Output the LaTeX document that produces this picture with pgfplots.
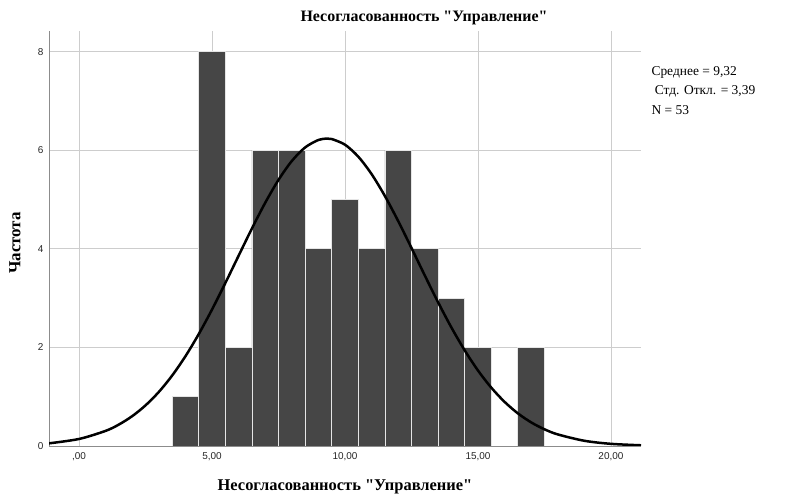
\documentclass[border=0pt]{standalone}
\usepackage{fontspec}
\setmainfont{Liberation Serif}[Ligatures=TeXOff]
\newfontfamily\arialf{Liberation Sans}
\usepackage{pgfplots}
\pgfplotsset{compat=1.18}
\definecolor{barfill}{RGB}{70,70,70}
\definecolor{gridc}{RGB}{205,205,205}
\definecolor{axisc}{RGB}{140,140,140}
\begin{document}
\begin{tikzpicture}[x=1bp,y=1bp]
\path[use as bounding box] (0,0) rectangle (799,497);
\begin{axis}[
  at={(49bp,51bp)}, anchor=south west,
  scale only axis, width=592bp, height=415bp,
  xmin=-1.13, xmax=21.13, ymin=0, ymax=8.42,
  axis x line*=bottom, axis y line*=left,
  axis line style={axisc, line width=0.8bp, -},
  xtick={0,5,10,15,20}, xticklabels={{,00},{5,00},{10,00},{15,00},{20,00}},
  ytick={0,2,4,6,8}, yticklabels={0,2,4,6,8},
  major tick length=0pt,
  grid=major, major grid style={gridc, line width=0.8bp},
  tick label style={font=\arialf\fontsize{10}{11}\selectfont, text=black!85},
  xticklabel style={yshift=-3bp},
  yticklabel style={xshift=-2bp},
]
\addplot[ybar, bar width=1, fill=barfill, draw=white!90!black, line width=0.8bp]
 coordinates {(4,1)(5,8)(6,2)(7,6)(8,6)(9,4)(10,5)(11,4)(12,6)(13,4)(14,3)(15,2)(17,2)};
\addplot[smooth, black, line width=2.5bp] coordinates {
(-1.13,0.054)(0,0.1425)(1,0.307)(1.5,0.436)(2,0.606)(2.5,0.8245)(3,1.097)(3.5,1.429)(4,1.8205)(4.5,2.270)(5,2.769)(5.5,3.306)(6,3.861)(6.5,4.413)(7,4.935)(7.5,5.400)(8,5.782)(8.5,6.057)(9,6.209)(9.32,6.237)(9.5,6.228)(10,6.113)(10.5,5.870)(11,5.516)(11.5,5.072)(12,4.563)(12.5,4.017)(13,3.460)(13.5,2.916)(14,2.405)(14.5,1.941)(15,1.532)(15.5,1.184)(16,0.895)(16.5,0.662)(17,0.479)(17.5,0.339)(18,0.235)(19,0.1058)(20,0.0436)(21.13,0.0144)};
\end{axis}
\node[font=\bfseries\fontsize{16}{18}\selectfont] at (424,479) {Несогласованность "Управление"};
\node[font=\bfseries\fontsize{16.5}{18}\selectfont] at (345,10) {Несогласованность "Управление"};
\node[font=\bfseries\fontsize{17}{20}\selectfont, rotate=90] at (15,254) {Частота};
\node[font=\fontsize{13.5}{19.5}\selectfont, anchor=north west, align=left] at (648,434) {Среднее = 9,32\\ \ Стд. Откл. = 3,39\\N = 53};
\end{tikzpicture}
\end{document}
